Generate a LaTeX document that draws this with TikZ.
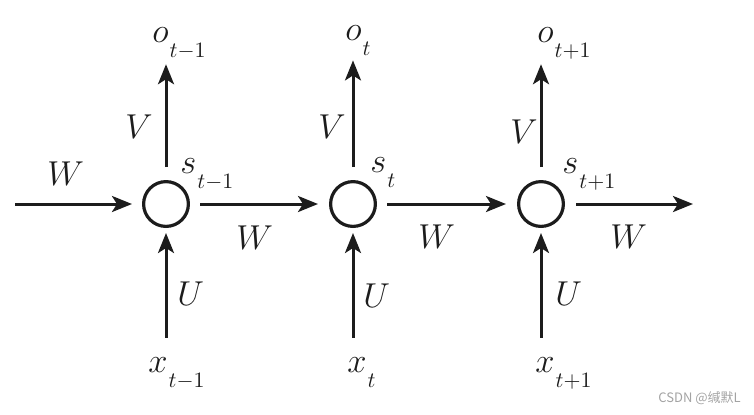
\documentclass[tikz,border=0pt]{standalone}
\usepackage{fontspec}
\newfontfamily\cjk{Noto Sans CJK SC}
\usepackage{tikz}
\usetikzlibrary{arrows.meta,positioning}
\definecolor{rnnink}{HTML}{1C1C1C}
\definecolor{rnnmark}{HTML}{A3A3A3}
\newcommand{\rnnvar}[2]{$#1$\kern0.5pt\raisebox{-7.5pt}{\fontsize{11}{11}\selectfont$#2$}}

\begin{document}
\begin{tikzpicture}[x=0.5pt, y=0.5pt, line join=round, font=\fontsize{17.28}{20}\selectfont,
  cell/.style={circle, draw=rnnink, line width=1.6pt, minimum size=22.4pt, inner sep=0pt},
  flow/.style={draw=rnnink, line width=1.5pt, -{Stealth[length=10pt, width=8pt, inset=2.5pt]}},
  lbl/.style={inner sep=0pt, text=rnnink, anchor=base west}]
  \useasboundingbox (0,0) rectangle (754,-414);
  % cells
  \node[cell] (c1) at (166,-204) {};
  \node[cell] (c2) at (353,-204) {};
  \node[cell] (c3) at (541,-204) {};
  \node[lbl] (s1) at (180,-173) {\rnnvar{s}{t\mathord{-}1}};
  \node[lbl] (s2) at (370,-172) {\rnnvar{s}{t}};
  \node[lbl] (s3) at (562,-173) {\rnnvar{s}{t\mathord{+}1}};
  % outputs + inputs
  \node[lbl] (o1) at (152,-42) {\rnnvar{o}{t\mathord{-}1}};
  \node[lbl] (o2) at (345,-40) {\rnnvar{o}{t}};
  \node[lbl] (o3) at (537,-42) {\rnnvar{o}{t\mathord{+}1}};
  \node[lbl] (x1) at (148,-372) {\rnnvar{x}{t\mathord{-}1}};
  \node[lbl] (x2) at (347,-372) {\rnnvar{x}{t}};
  \node[lbl] (x3) at (535,-372) {\rnnvar{x}{t\mathord{+}1}};
  % recurrent chain
  \coordinate (win) at (15,-204);
  \coordinate (wout) at (693,-204);
  \draw[flow, shorten >=5pt] (win) -- (c1.west);
  \draw[flow, shorten <=5pt, shorten >=5.5pt] (c1) -- (c2);
  \draw[flow, shorten <=5pt, shorten >=5.5pt] (c2) -- (c3);
  \draw[flow, shorten <=5.5pt] (c3.east) -- (wout);
  % up / down arrows
  \foreach \i in {1,2,3} {
    \draw[flow, shorten <=6.5pt, shorten >=2.5pt] (c\i.north) -- (c\i.north |- o\i.south);
    \draw[flow, shorten <=9.5pt, shorten >=2.5pt] (c\i.south |- x\i.north) -- (c\i.south);
  }
  % weights
  \node[lbl] (w0) at (47,-185) {$W$};
  \node[lbl] (w1) at (236,-249) {$W$};
  \node[lbl] (w2) at (418,-248) {$W$};
  \node[lbl] (w3) at (610,-248) {$W$};
  \node[lbl] (v1) at (125,-138) {$V$};
  \node[lbl] (v2) at (318,-138) {$V$};
  \node[lbl] (v3) at (510,-143) {$V$};
  \node[lbl] (u1) at (177,-305) {$U$};
  \node[lbl] (u2) at (363,-307) {$U$};
  \node[lbl] (u3) at (555,-305) {$U$};
  % watermark
  \node[anchor=base west, inner sep=0pt, text=rnnmark, font=\cjk\fontsize{6.5}{7}\selectfont] (mark) at (658,-402) {CSDN @缄默L};
\end{tikzpicture}
\end{document}
